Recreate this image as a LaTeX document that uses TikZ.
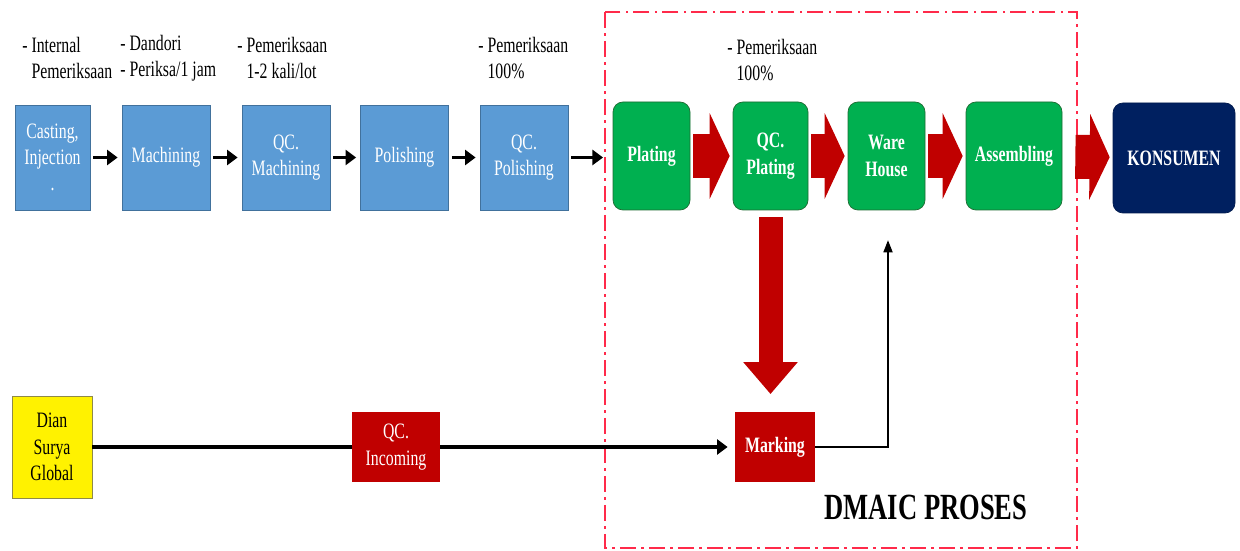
\documentclass[tikz,border=0pt]{standalone}
\usepackage{fontspec}
\setmainfont[FakeStretch=0.72]{Liberation Serif}
\usetikzlibrary{arrows.meta,positioning,calc}
\definecolor{procblue}{HTML}{5B9BD5}
\definecolor{procline}{HTML}{41719C}
\definecolor{dmaicgreen}{HTML}{00B050}
\definecolor{greenline}{HTML}{1E6B32}
\definecolor{konsnavy}{HTML}{002060}
\definecolor{qcred}{HTML}{C00000}
\definecolor{framered}{HTML}{FF2A4A}

\begin{document}
\begin{tikzpicture}[x=0.2mm, y=-0.2mm,
  proc/.style={draw=procline, fill=procblue, text=white, align=center, minimum width=1.76cm, minimum height=2.1cm, inner sep=1pt, font=\fontsize{12.5}{15}\selectfont},
  green/.style={draw=greenline, fill=dmaicgreen, text=white, rounded corners=0.2cm, align=center, minimum width=1.54cm, minimum height=2.16cm, inner sep=1pt, font=\bfseries\fontsize{12.5}{15}\selectfont},
  redbox/.style={fill=qcred, text=white, align=center, minimum width=1.76cm, minimum height=1.4cm, inner sep=1pt, font=\fontsize{12.5}{15}\selectfont},
  note/.style={anchor=west, align=left, inner sep=0pt, font=\fontsize{12.5}{14.5}\selectfont},
  arr/.style={-{Triangle[length=6pt,width=8.5pt]}, line width=2pt, shorten <=1.7pt, shorten >=2.3pt},
  bigarr/.style={-{Triangle[length=0.4cm,width=1.7cm]}, line width=0.88cm, qcred, shorten <=1.7pt, shorten >=1.7pt},
  downarr/.style={-{Triangle[length=0.64cm,width=1.05cm]}, line width=0.48cm, qcred, shorten <=4pt, shorten >=10pt},
  frame/.style={draw=framered, line width=1.4pt, dash pattern=on 9pt off 3pt on 1.5pt off 3pt}
]
\useasboundingbox (0,0) rectangle (1240,551);

\node[proc, minimum width=1.5cm] (cast) at (52.5,157.5) {Casting,\\Injection\\.};
\node[proc] (mach) at (166,157.5) {Machining};
\node[proc] (qcmach) at (286,157.5) {QC.\\Machining};
\node[proc] (polish) at (404.5,157.5) {Polishing};
\node[proc] (qcpol) at (524,157.5) {QC.\\Polishing};
\coordinate (enter) at (603,157.5);

\node[note] (note1) at (22,58) {- Internal\\\hphantom{-}\ Pemeriksaan};
\node[note] (note2) at (120,58) {- Dandori\\- Periksa/1 jam};
\node[note] (note3) at (237,58) {- Pemeriksaan\\\hphantom{-}\ 1-2 kali/lot};
\node[note] (note4) at (478,58) {- Pemeriksaan\\\hphantom{-}\ 100\%};
\node[note] (note5) at (727,60) {- Pemeriksaan\\\hphantom{-}\ 100\%};

\draw[arr] (cast) -- (mach);
\draw[arr] (mach) -- (qcmach);
\draw[arr] (qcmach) -- (polish);
\draw[arr] (polish) -- (qcpol);
\draw[arr, shorten >=0pt] (qcpol) -- (enter);

\draw[frame] (605,12) rectangle (1077,548);

\node[green] (plat) at (651.5,156) {Plating};
\node[green, minimum width=1.5cm] (qcplat) at (770.5,156) {QC.\\Plating};
\node[green] (wh) at (886.5,156) {Ware\\House};
\node[green, minimum width=1.92cm] (assy) at (1014,156) {Assembling};
\node[green, draw=konsnavy!80!black, fill=konsnavy, minimum width=2.44cm, minimum height=2.2cm] (kons) at (1174,158) {KONSUMEN};

\draw[bigarr] (plat) -- (qcplat);
\draw[bigarr] (qcplat) -- (wh);
\draw[bigarr] (wh) -- (assy);
\draw[bigarr, shorten <=7.4pt] (assy) -- (kons);

\node[proc, draw=yellow!50!black, fill=yellow, text=black, minimum width=1.6cm, minimum height=2.04cm] (dian) at (52,447) {Dian\\Surya\\Global};
\node[redbox] (qcinc) at (396,447) {QC.\\Incoming};
\node[redbox, minimum width=1.6cm, font=\bfseries\fontsize{12.5}{15}\selectfont] (mark) at (775,447) {Marking};
\coordinate (whin) at (888,240);

\draw[downarr] (qcplat.south) -- (qcplat.south |- mark.north);
\draw[line width=2pt] (dian) -- (qcinc);
\draw[arr, shorten <=0pt, shorten >=4pt] (qcinc) -- (mark);
\draw[-{Triangle[length=7pt,width=5pt]}, line width=1.3pt] (mark.east) -| (whin);

\node[font=\bfseries\fontsize{21}{24}\selectfont] (dmaic) at (926,507) {DMAIC PROSES};

\end{tikzpicture}
\end{document}
